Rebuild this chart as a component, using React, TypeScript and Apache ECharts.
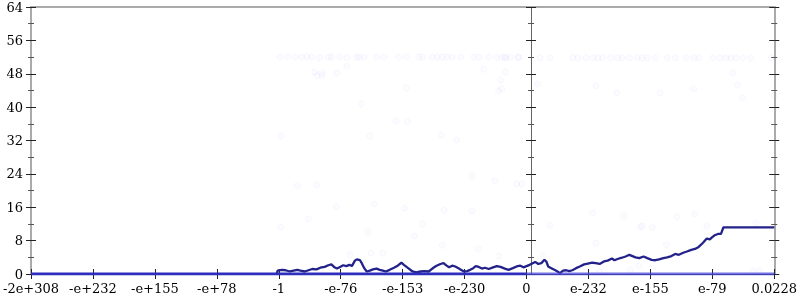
import React, { useEffect, useRef } from "react";
import * as echarts from "echarts";

const tickLabels = ["-2e+308", "-e+232", "-e+155", "-e+78", "-1", "-e-76", "-e-153", "-e-230", "0", "e-232", "e-155", "e-79", "0.0228"];

// pixel-read positions converted to axis units (x: 0..12 spans the 12 label intervals, y: 0..64)
const lineX = [
  3.97, 3.98, 4.05, 4.11, 4.18, 4.24, 4.30, 4.35, 4.42, 4.48, 4.54, 4.61, 4.67, 4.74, 4.80, 4.85, 4.90, 4.94, 4.99,
  5.04, 5.09, 5.14, 5.18, 5.23, 5.26, 5.31, 5.34, 5.38, 5.42, 5.47, 5.52, 5.58, 5.63, 5.68, 5.73, 5.79, 5.86, 5.92,
  5.98, 6.02, 6.10, 6.16, 6.22, 6.29, 6.35, 6.42, 6.48, 6.54, 6.61, 6.66, 6.71, 6.75, 6.80, 6.85, 6.90, 6.94, 6.99,
  7.04, 7.09, 7.14, 7.18, 7.23, 7.28, 7.33, 7.39, 7.46, 7.52, 7.58, 7.65, 7.71, 7.78, 7.84, 7.90, 7.95, 8.00,
  8.05, 8.10, 8.14, 8.19, 8.24, 8.29, 8.32, 8.35, 8.40, 8.45, 8.50, 8.54, 8.59, 8.64, 8.69, 8.74, 8.80, 8.86, 8.93,
  8.99, 9.06, 9.12, 9.18, 9.25, 9.31, 9.38, 9.42, 9.47, 9.54, 9.60, 9.66, 9.71, 9.76, 9.82, 9.89, 9.95, 10.02,
  10.08, 10.14, 10.21, 10.27, 10.34, 10.40, 10.46, 10.53, 10.59, 10.66, 10.72, 10.78, 10.85, 10.91, 10.96, 10.99,
  11.04, 11.09, 11.14, 11.18, 11.20, 12.00,
];
const lineY = [
  0.1, 0.8, 1.0, 0.9, 0.6, 0.8, 1.0, 0.8, 0.6, 0.9, 1.2, 1.1, 1.5, 1.7, 2.1, 2.3, 1.6, 1.3, 1.7,
  2.1, 1.9, 2.2, 1.9, 3.2, 3.5, 3.3, 2.6, 1.4, 0.6, 0.8, 1.1, 1.3, 1.0, 0.8, 0.6, 1.0, 1.5, 2.0,
  2.7, 2.2, 1.3, 0.6, 0.4, 0.6, 0.7, 0.6, 1.3, 1.9, 2.4, 2.6, 2.0, 1.6, 2.0, 1.8, 1.4, 1.0, 0.6,
  0.7, 1.0, 1.4, 1.9, 1.7, 1.3, 1.5, 1.2, 1.6, 1.9, 1.7, 1.3, 1.0, 1.4, 1.8, 2.0, 1.6, 1.9,
  2.2, 2.6, 2.9, 2.4, 2.6, 3.4, 3.0, 1.8, 1.4, 1.0, 0.6, 0.2, 0.8, 0.9, 0.7, 0.9, 1.4, 1.8, 2.3,
  2.5, 2.7, 2.6, 2.4, 3.0, 3.2, 3.7, 3.3, 3.6, 3.9, 4.2, 4.6, 4.3, 4.0, 3.8, 4.2, 3.8, 3.4,
  3.3, 3.5, 3.8, 4.0, 4.3, 4.8, 4.6, 5.1, 5.4, 5.8, 6.0, 6.5, 7.5, 8.5, 8.3, 8.7,
  9.3, 9.6, 9.6, 11.2, 11.2, 11.2,
];

const zeroLeftX = [0, 8];
const zeroRightX = [8, 12];
const zeroY = [0, 0];

const dotsX = [
  4.02, 4.14, 4.26, 4.37, 4.45, 4.53, 4.66, 4.80, 4.85, 4.98, 5.10, 5.26, 5.30, 5.38, 5.58, 5.70, 5.94, 6.06, 6.26,
  6.32, 6.48, 6.56, 6.64, 6.72, 6.80, 6.94, 7.15, 7.23, 7.39, 7.52, 7.66, 7.87, 7.60, 7.74, 7.87, 8.22, 8.38, 8.75,
  8.83, 8.96, 9.07, 9.15, 9.23, 9.36, 9.47, 9.54, 9.66, 9.79, 9.87, 9.95, 10.08, 10.27, 10.40, 10.58, 10.70, 10.78,
  11.01, 11.12, 11.22, 11.30, 11.38, 11.49, 11.62, 11.95,
];
const dotsY = [
  52.0, 52.1, 52.0, 52.0, 52.1, 52.0, 51.8, 52.0, 52.0, 52.0, 51.8, 52.0, 52.0, 52.0, 52.0, 52.0, 52.0, 52.0, 52.0,
  52.0, 52.0, 52.0, 52.0, 52.0, 52.0, 52.0, 52.0, 52.0, 52.0, 51.9, 52.0, 51.9, 52.0, 52.0, 52.0, 51.8, 51.8, 51.8,
  51.8, 51.8, 51.8, 51.8, 51.8, 51.8, 51.8, 51.8, 51.8, 51.8, 51.8, 51.8, 51.8, 51.8, 51.8, 51.8, 51.8, 51.8,
  51.8, 51.8, 51.8, 51.8, 51.8, 51.8, 51.8, 51.8,
];
const strayX = [
  4.58, 4.62, 4.70, 4.70, 4.94, 5.10, 5.33, 5.89, 6.08, 6.06, 7.31, 7.66, 7.66, 7.55, 7.60, 8.18, 9.12, 9.46,
  10.16, 10.70, 11.33, 11.41, 11.49, 12.0, 7.58, 4.03, 5.47, 6.62, 6.87, 4.30, 4.61, 7.12, 7.49, 7.84, 7.92,
  4.93, 5.54, 6.03, 6.67, 7.12, 4.48, 4.03, 5.44, 6.32, 6.19, 6.64, 7.22, 5.15, 5.49, 5.68, 7.55,
  9.07, 9.57, 10.43, 10.72, 8.38, 9.87, 9.84, 10.03, 10.91, 11.71, 9.12, 10.26, 8.27, 9.81, 11.66, 11.76, 9.68, 9.18,
];
const strayY = [
  48.4, 47.5, 48.2, 47.5, 48.2, 49.8, 40.8, 36.7, 36.5, 44.6, 49.1, 51.8, 48.4, 43.9, 44.4, 45.6, 45.1, 43.4,
  43.4, 44.4, 48.2, 45.3, 42.2, 42.7, 46.5, 33.1, 33.1, 33.3, 32.1, 21.2, 21.3, 23.5, 22.3, 21.6, 21.6, 16.1,
  16.8, 15.8, 15.3, 15.1, 13.2, 11.2, 10.1, 12.0, 9.1, 6.9, 6.0, 4.6, 5.0, 5.0, 4.3,
  14.6, 13.9, 13.7, 14.4, 11.7, 11.5, 11.3, 11.1, 11.5, 12.2, 7.4, 7.0, 4.3, 1.9, 0.7, 0.7, 1.0, 0.5,
];

function pairs(xs: number[], ys: number[]) {
  return xs.map((x, i) => [x, ys[i]]);
}

const FONT = "DejaVu Serif";

export default function App() {
  const ref = useRef<HTMLDivElement>(null);
  useEffect(() => {
    if (!ref.current) return;
    const chart = echarts.init(ref.current, undefined, { renderer: "svg" });
    const grid = { left: 28, right: 22, top: 7, bottom: 26, containLabel: false };
    const yBase = { type: "value", min: 0, max: 64, interval: 8, splitLine: { show: false } } as any;
    const majorTick = { show: true, length: 5, lineStyle: { color: "#222", width: 1 } };
    const minorTick = { show: true, splitNumber: 2, length: 3, lineStyle: { color: "#555", width: 1 } };
    const noLabel = { show: false };
    const xBase = { type: "value", min: 0, max: 12, interval: 1, splitLine: { show: false } } as any;
    chart.setOption({
      animation: false,
      grid,
      xAxis: [
        {
          ...xBase,
          position: "bottom",
          axisLine: { show: true, onZero: false, lineStyle: { color: "#333", width: 1 } },
          axisTick: { ...majorTick, inside: false },
          axisLabel: {
            show: true,
            margin: 8,
            fontFamily: FONT,
            fontSize: 13,
            color: "#000",
            formatter: (v: number) => tickLabels[Math.round(v)] ?? "",
            showMinLabel: true,
            showMaxLabel: true,
          },
        },
        {
          ...xBase,
          position: "bottom",
          axisLine: { show: false, onZero: false },
          axisTick: { ...majorTick, inside: true },
          axisLabel: noLabel,
        },
        {
          ...xBase,
          position: "top",
          axisLine: { show: true, onZero: false, lineStyle: { color: "#aaa", width: 2 } },
          axisTick: { show: false },
          axisLabel: noLabel,
        },
      ],
      yAxis: [
        {
          ...yBase,
          position: "left",
          axisLine: { show: true, onZero: false, lineStyle: { color: "#aaa", width: 2 } },
          axisTick: { ...majorTick, inside: false },
          minorTick: { ...minorTick },
          axisLabel: { show: true, margin: 8, fontFamily: FONT, fontSize: 13, color: "#000" },
        },
        {
          ...yBase,
          position: "left",
          axisLine: { show: false, onZero: false },
          axisTick: { ...majorTick, inside: true },
          minorTick: { ...minorTick },
          axisLabel: noLabel,
        },
        {
          ...yBase,
          position: "left",
          offset: -500,
          axisLine: { show: true, onZero: false, lineStyle: { color: "#666", width: 1 } },
          axisTick: { ...majorTick, inside: false },
          minorTick: { ...minorTick },
          axisLabel: noLabel,
        },
        {
          ...yBase,
          position: "left",
          offset: -500,
          axisLine: { show: false, onZero: false },
          axisTick: { ...majorTick, inside: true },
          minorTick: { ...minorTick },
          axisLabel: noLabel,
        },
        {
          ...yBase,
          position: "right",
          axisLine: { show: true, onZero: false, lineStyle: { color: "#aaa", width: 2 } },
          axisTick: { ...majorTick, inside: false },
          minorTick: { ...minorTick },
          axisLabel: noLabel,
        },
        {
          ...yBase,
          position: "right",
          axisLine: { show: false, onZero: false },
          axisTick: { ...majorTick, inside: true },
          minorTick: { ...minorTick },
          axisLabel: noLabel,
        },
      ],
      series: [
        {
          type: "scatter",
          data: pairs(dotsX, dotsY).concat(pairs(strayX, strayY)),
          symbol: "circle",
          symbolSize: 6,
          itemStyle: { color: "rgba(120,120,255,0.03)", borderColor: "rgba(90,90,255,0.06)", borderWidth: 1 },
          silent: true,
          z: 1,
        },
        {
          type: "line",
          data: pairs(lineX, lineY),
          showSymbol: false,
          lineStyle: { color: "#22228a", width: 2.3 },
          z: 3,
        },
        {
          type: "line",
          data: pairs(zeroLeftX, zeroY),
          showSymbol: false,
          lineStyle: { color: "#2f2fbf", width: 3 },
          z: 4,
        },
        {
          type: "line",
          data: pairs(zeroRightX, zeroY),
          showSymbol: false,
          lineStyle: { color: "rgba(70,70,220,0.75)", width: 3 },
          z: 4,
        },
      ],
    });
    return () => chart.dispose();
  }, []);
  return <div ref={ref} style={{ position: "fixed", left: 0, top: 0, width: 800, height: 300 }} />;
}
